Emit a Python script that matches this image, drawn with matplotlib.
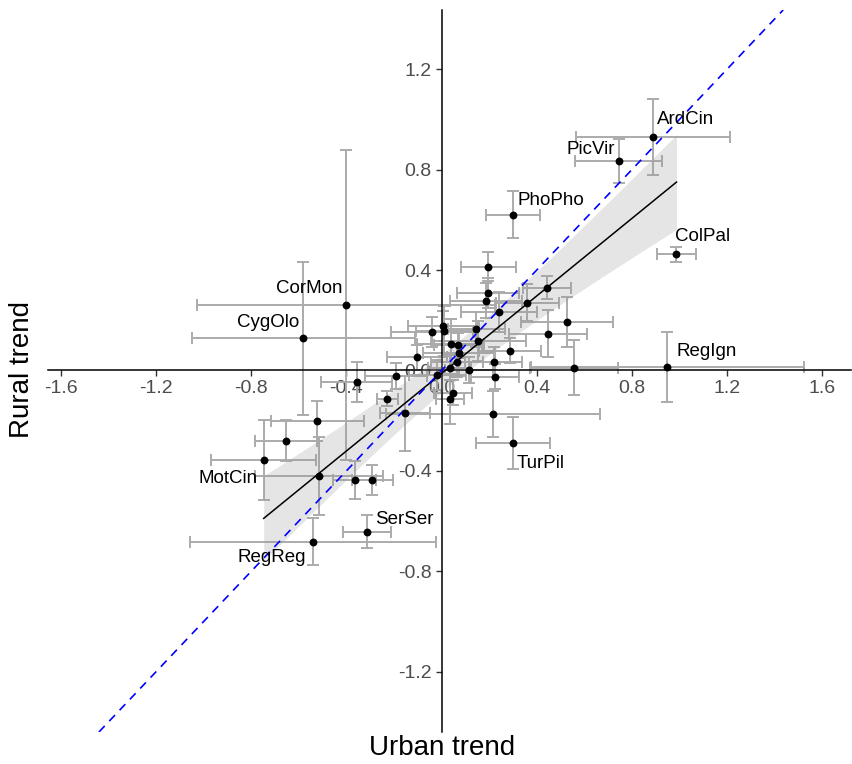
import matplotlib
matplotlib.use('Agg')
import matplotlib.pyplot as plt
from matplotlib.ticker import FormatStrFormatter, MultipleLocator
import numpy as np

plt.rcParams['font.family'] = ['Liberation Sans', 'DejaVu Sans']
plt.rcParams['axes.unicode_minus'] = False

# species trends (urban vs rural) with their standard errors
species = ['ArdCin', 'PicVir', 'PhoPho', 'ColPal', '', 'RegIgn', '', 'TurPil',
           'MotCin', '', '', '', '', '', 'SerSer', 'RegReg',
           '', '', '', '', '', 'CygOlo', 'CorMon', '',
           '', '', '', '', '', '', '', '',
           '', '', '', '', '', '', '', '',
           '', '', '', '', '', '', '', '']
urban = np.array([0.888, 0.745, 0.300, 0.987, 0.196, 0.949, 0.555, 0.300,
                  -0.747, -0.655, -0.521, -0.515, -0.364, -0.290, -0.314, -0.541,
                  -0.227, -0.153, -0.357, -0.192, -0.101, -0.580, -0.402, 0.196,
                  0.187, 0.241, 0.008, 0.012, -0.039, 0.146, 0.154, 0.038,
                  0.070, 0.073, 0.034, 0.066, 0.115, 0.220, 0.224, -0.018,
                  0.443, 0.360, 0.527, 0.448, 0.287, 0.049, 0.036, 0.216])
rural = np.array([0.930, 0.835, 0.620, 0.462, 0.413, 0.014, 0.011, -0.290,
                  -0.356, -0.279, -0.202, -0.419, -0.436, -0.436, -0.641, -0.681,
                  -0.113, -0.170, -0.045, -0.022, 0.053, 0.128, 0.261, 0.310,
                  0.278, 0.234, 0.178, 0.158, 0.154, 0.164, 0.117, 0.105,
                  0.101, 0.068, 0.011, 0.033, 0.002, 0.035, -0.025, -0.018,
                  0.330, 0.270, 0.193, 0.146, 0.078, -0.088, -0.113, -0.173])
urban_se = np.array([0.323, 0.183, 0.115, 0.080, 0.115, 0.574, 0.185, 0.156,
                     0.220, 0.130, 0.195, 0.270, 0.090, 0.085, 0.100, 0.517,
                     0.045, 0.105, 0.149, 0.130, 0.126, 0.467, 0.626, 0.130,
                     0.150, 0.160, 0.150, 0.120, 0.174, 0.120, 0.200, 0.140,
                     0.100, 0.150, 0.090, 0.110, 0.100, 0.120, 0.100, 0.120,
                     0.101, 0.133, 0.195, 0.164, 0.130, 0.080, 0.060, 0.450])
rural_se = np.array([0.150, 0.088, 0.094, 0.030, 0.057, 0.138, 0.110, 0.103,
                     0.160, 0.080, 0.080, 0.156, 0.075, 0.060, 0.066, 0.095,
                     0.030, 0.150, 0.080, 0.050, 0.050, 0.304, 0.616, 0.060,
                     0.070, 0.080, 0.060, 0.100, 0.060, 0.070, 0.080, 0.100,
                     0.050, 0.090, 0.050, 0.060, 0.050, 0.060, 0.050, 0.060,
                     0.047, 0.073, 0.098, 0.094, 0.050, 0.050, 0.100, 0.090])

# fitted trend line
fit_slope = 0.772
fit_intercept = -0.012

# where each species label sits relative to its point (pixels)
label_pos = {'ArdCin': (4, 17, 'left'), 'PicVir': (-4, 11, 'right'),
             'PhoPho': (5, 14, 'left'), 'ColPal': (-1, 18, 'left'),
             'RegIgn': (9, 15, 'left'), 'TurPil': (4, -20, 'left'),
             'SerSer': (8, 12, 'left'), 'RegReg': (-7, -16, 'right'),
             'MotCin': (-6, -19, 'right'), 'CygOlo': (-4, 16, 'right'),
             'CorMon': (-3, 16, 'right')}

fig = plt.figure(figsize=(8.53, 7.64), dpi=100)
ax = fig.add_axes([48/853, 1 - 732/764, 803/853, 722/764])

ax.errorbar(urban, rural, xerr=urban_se, yerr=rural_se, fmt='none',
            ecolor='#ABABAB', elinewidth=1.4, capsize=4.5, capthick=1.4, zorder=2)

# trend line with 95% band
xs = np.linspace(urban.min(), urban.max(), 100)
n = len(urban)
resid = rural - (fit_intercept + fit_slope * urban)
s = np.sqrt(np.sum(resid**2) / (n - 2))
sxx = np.sum((urban - urban.mean())**2)
se = s * np.sqrt(1/n + (xs - urban.mean())**2 / sxx)
fit = fit_intercept + fit_slope * xs
ax.fill_between(xs, fit - 2.013*se, fit + 2.013*se, color='#999999', alpha=0.25,
                lw=0, zorder=3)
ax.plot(xs, fit, color='black', lw=1.1, zorder=4)

ax.axline((0, 0), slope=1, color='#0000FF', lw=1.2, ls=(0, (5, 4)), zorder=4)

ax.scatter(urban, rural, s=32, color='black', zorder=5, lw=0)

for name, x, y in zip(species, urban, rural):
    if name:
        dx, dy, ha = label_pos[name]
        ax.annotate(name, (x, y), xytext=(dx, dy), textcoords='offset pixels',
                    ha=ha, va='center', fontsize=13.5, color='black', zorder=6)

ax.set_xlim(-1.653, 1.72)
ax.set_ylim(-1.439, 1.435)
for side in ['top', 'right']:
    ax.spines[side].set_visible(False)
ax.spines['left'].set_position(('data', 0))
ax.spines['bottom'].set_position(('data', 0))
ax.spines['left'].set_linewidth(1.1)
ax.spines['bottom'].set_linewidth(1.1)
ax.set_axisbelow(True)
ax.xaxis.set_major_locator(MultipleLocator(0.4))
ax.yaxis.set_major_locator(MultipleLocator(0.4))
ax.xaxis.set_major_formatter(FormatStrFormatter('%.1f'))
ax.yaxis.set_major_formatter(FormatStrFormatter('%.1f'))
ax.tick_params(direction='out', length=4, width=1, colors='#333333',
               labelcolor='#4D4D4D', labelsize=14, pad=3)

fig.text(442/853, 1 - 748/764, 'Urban trend', ha='center', va='center', fontsize=20)
fig.text(22/853, 1 - 370/764, 'Rural trend', ha='center', va='center', fontsize=20,
         rotation=90)

fig.savefig('out.png', dpi=100)
